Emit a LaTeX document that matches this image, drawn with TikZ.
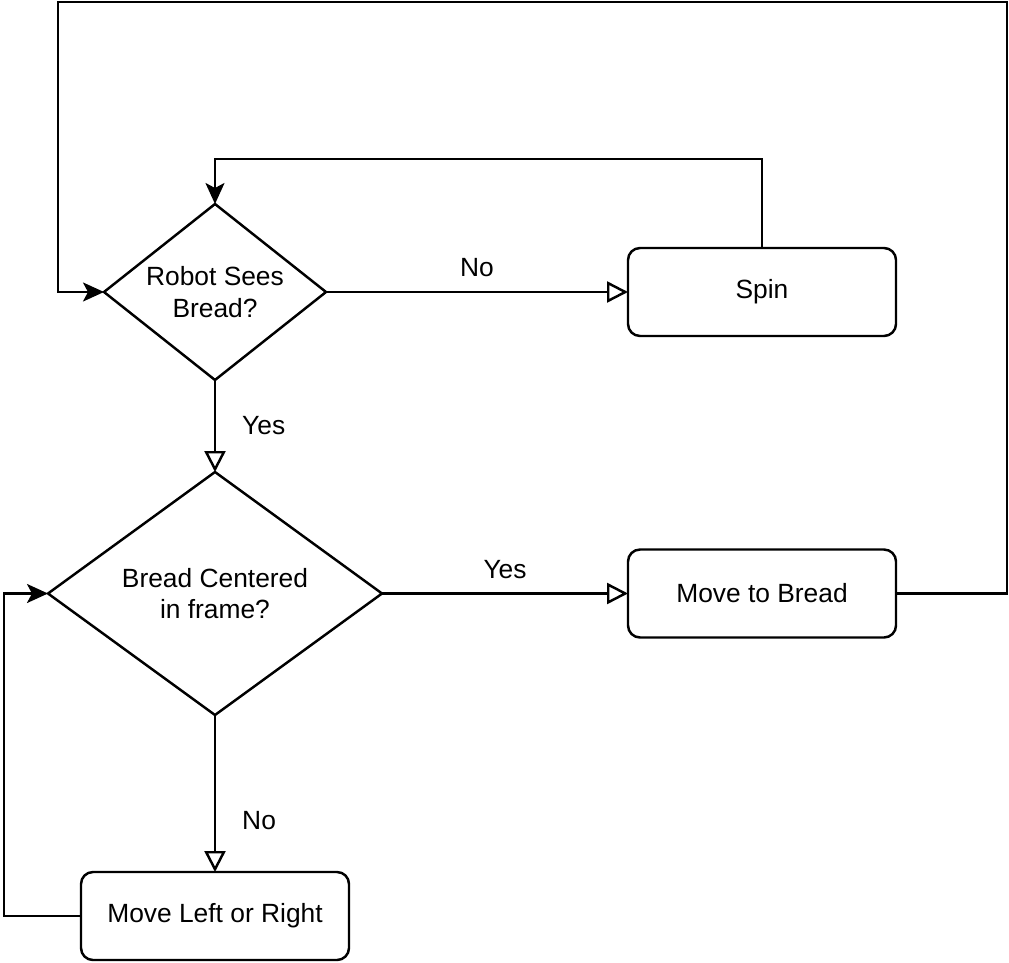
\documentclass[tikz,border=0pt]{standalone}
\usepackage{fontspec}
\setmainfont{Liberation Sans}
\usetikzlibrary{positioning, shapes.geometric, arrows.meta}

\begin{document}
\begin{tikzpicture}[
  font=\fontsize{15}{18}\selectfont,
  check/.style={
    draw=black, diamond, line width=1.4pt, inner sep=0pt, outer sep=0pt, align=center
  },
  action/.style={
    draw=black, rounded corners=0.24cm, minimum width=5.36cm, minimum height=1.76cm,
    inner sep=0pt, outer sep=0pt, align=center, line width=1.4pt
  },
  choice/.style={-{Triangle[open, length=0.42cm, width=0.42cm]}, line width=1.4pt},
  back/.style={-{Stealth[length=0.42cm, width=0.38cm, inset=0.1cm]}, line width=1.4pt},
  arrowlabel/.style={inner sep=2pt},
]
\useasboundingbox (0,0) rectangle (20.18,-19.26);

\node[check, minimum width=4.44cm, minimum height=3.52cm, aspect=1.26] (sees) at (4.30,-5.84) {Robot Sees\\Bread?};
\node[action, right=6.04cm of sees] (spin) {Spin};
\node[check, minimum width=6.68cm, minimum height=4.86cm, aspect=1.37, below=1.84cm of sees] (centered) {Bread Centered\\in frame?};
\node[action, right=4.92cm of centered] (tobread) {Move to Bread};
\node[action, below=3.14cm of centered] (leftright) {Move Left or Right};

% outer loop corners
\coordinate (topright) at (20.14,-0.04);
\coordinate (topleft) at (1.16,-0.04);

\draw[choice] (sees.east) -- node[arrowlabel, above=0.2cm] {No} (spin.west);
\draw[choice] (sees.south) -- node[arrowlabel, right=0.45cm] {Yes} (centered.north);
\draw[choice] (centered.east) -- node[arrowlabel, above=0.2cm] {Yes} (tobread.west);
\draw[choice] (centered.south) -- node[arrowlabel, pos=0.67, right=0.45cm] {No} (leftright.north);

\draw[back] (spin.north) -- ++(0,1.78) -| (sees.north);
\draw[back] (tobread.east) -| (topright) -- (topleft) |- (sees.west);
\draw[back] (leftright.west) -- ++(-1.54,0) |- (centered.west);

\end{tikzpicture}
\end{document}
